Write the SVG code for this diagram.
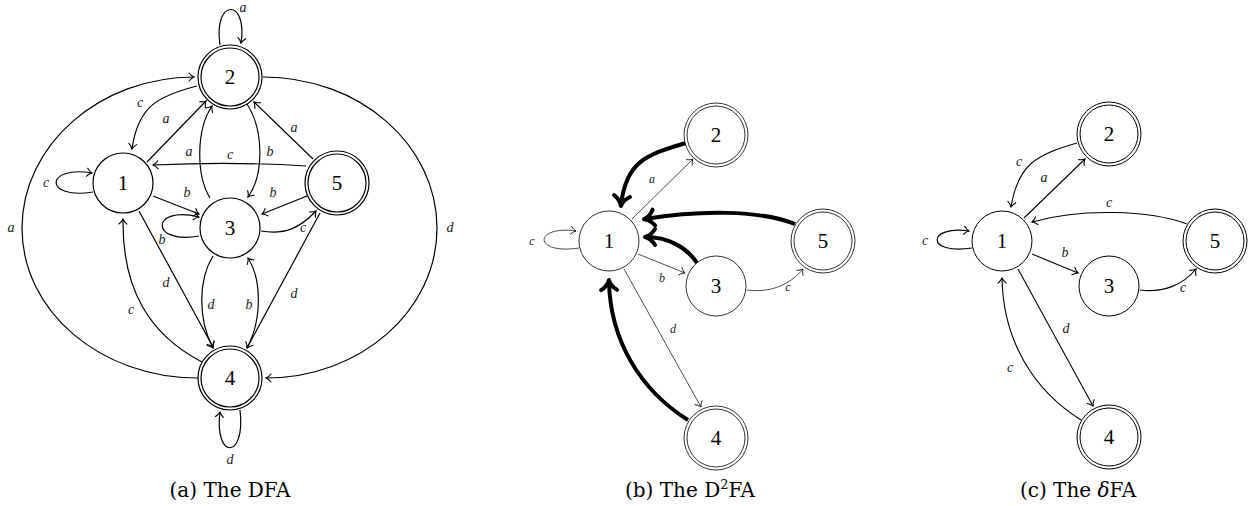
<svg xmlns="http://www.w3.org/2000/svg" width="1252" height="506" viewBox="0 0 1252 506">
<style>
.n{fill:#fff;stroke:#000;}
.na{stroke-width:1.2}
.nb{stroke-width:0.8}
.nc{stroke-width:1}
.num{font-family:"Liberation Serif",serif;font-size:21px;text-anchor:middle;fill:#000}
.lbl{font-family:"Liberation Serif",serif;font-style:italic;font-size:14px;text-anchor:middle;fill:#222}
.lblb{font-family:"Liberation Serif",serif;font-style:italic;font-size:12px;text-anchor:middle;fill:#222}
.cap{font-family:"DejaVu Serif","Liberation Serif",serif;font-size:20px;text-anchor:middle;fill:#000}
.ea{fill:none;stroke:#000;stroke-width:1.2;marker-end:url(#arA)}
.eb{fill:none;stroke:#000;stroke-width:0.7;marker-end:url(#arB)}
.ek{fill:none;stroke:#000;stroke-width:4;marker-end:url(#arK)}
.ec{fill:none;stroke:#000;stroke-width:1.1;marker-end:url(#arA)}
</style>
<defs>
<marker id="arA" markerUnits="userSpaceOnUse" viewBox="-8 -6 10 12" refX="0" refY="0" markerWidth="10" markerHeight="12" orient="auto" overflow="visible">
<path d="M-5,-4 C-3,-1.5 -1,-0.4 0,0 C-1,0.4 -3,1.5 -5,4" fill="none" stroke="#000" stroke-width="1.1" stroke-linecap="round"/>
</marker>
<marker id="arB" markerUnits="userSpaceOnUse" viewBox="-8 -6 10 12" refX="0" refY="0" markerWidth="10" markerHeight="12" orient="auto" overflow="visible">
<path d="M-5,-4 C-3,-1.5 -1,-0.4 0,0 C-1,0.4 -3,1.5 -5,4" fill="none" stroke="#000" stroke-width="0.8" stroke-linecap="round"/>
</marker>
<marker id="arK" markerUnits="userSpaceOnUse" viewBox="-14 -10 16 20" refX="0" refY="0" markerWidth="16" markerHeight="20" orient="auto" overflow="visible">
<path d="M-9,-8 C-6,-3 -2,-0.8 1,0 C-2,0.8 -6,3 -9,8" fill="none" stroke="#000" stroke-width="4" stroke-linecap="round" stroke-linejoin="round"/>
</marker>
</defs>

<!-- Panel (a) connectors -->
<g id="connectors-a">
<path class="ea" d="M220,45 C213,-2 248,-2 241,43"/>
<path class="ea" d="M198,378 C100,378 22,311 22,228 C22,145 100,77 194,77"/>
<path class="ea" d="M263,77 C360,77 437,145 437,228 C437,311 360,378 266,378"/>
<path class="ea" d="M197,86 C158,96 138,106 132,149"/>
<path class="ea" d="M147,162 L206,101"/>
<path class="ea" d="M210,198 C196,175 196,130 212,106"/>
<path class="ea" d="M247,104 C264,130 264,175 248,197"/>
<path class="ea" d="M306,166 C260,163 200,163 153,165"/>
<path class="ea" d="M313,159 L254,102"/>
<path class="ea" d="M153,196 L199,214"/>
<path class="ea" d="M307,196 L262,214"/>
<path class="ea" d="M261,231 C285,235 300,228 316,211"/>
<path class="ea" d="M199,236 C150,245 150,205 199,217"/>
<path class="ea" d="M93,192 C43,200 45,165 92,173"/>
<path class="ea" d="M139,211 L213,347"/>
<path class="ea" d="M202,362 C150,335 122,290 123,219"/>
<path class="ea" d="M213,256 C198,280 198,320 213,348"/>
<path class="ea" d="M247,348 C262,320 262,280 248,258"/>
<path class="ea" d="M320,213 L247,348"/>
<path class="ea" d="M240,410 C246,460 214,460 220,412"/>
</g>
<g id="labels-a">
<text class="lbl" x="243" y="12">a</text>
<text class="lbl" x="11" y="232">a</text>
<text class="lbl" x="450" y="232">d</text>
<text class="lbl" x="140" y="107">c</text>
<text class="lbl" x="166" y="123">a</text>
<text class="lbl" x="189" y="156">a</text>
<text class="lbl" x="270" y="156">b</text>
<text class="lbl" x="230" y="159">c</text>
<text class="lbl" x="294" y="132">a</text>
<text class="lbl" x="187" y="197">b</text>
<text class="lbl" x="273" y="197">b</text>
<text class="lbl" x="303" y="232">c</text>
<text class="lbl" x="162" y="244">b</text>
<text class="lbl" x="46" y="187">c</text>
<text class="lbl" x="166" y="287">d</text>
<text class="lbl" x="131" y="314">c</text>
<text class="lbl" x="211" y="309">d</text>
<text class="lbl" x="249" y="309">b</text>
<text class="lbl" x="294" y="298">d</text>
<text class="lbl" x="230" y="464">d</text>
</g>
<g id="a-node1"><circle class="n na" cx="123" cy="183" r="30"/><text class="num" x="123" y="190">1</text></g>
<g id="a-node2"><circle class="n na" cx="230" cy="77" r="32"/><circle class="n na" cx="230" cy="77" r="29"/><text class="num" x="230" y="84">2</text></g>
<g id="a-node3"><circle class="n na" cx="230" cy="228" r="30"/><text class="num" x="230" y="235">3</text></g>
<g id="a-node4"><circle class="n na" cx="230" cy="378" r="32"/><circle class="n na" cx="230" cy="378" r="29"/><text class="num" x="230" y="385">4</text></g>
<g id="a-node5"><circle class="n na" cx="337" cy="183" r="32"/><circle class="n na" cx="337" cy="183" r="29"/><text class="num" x="337" y="190">5</text></g>
<text class="cap" x="230" y="497">(a) The DFA</text>

<!-- Panel (b) -->
<g id="connectors-b">
<path class="eb" d="M632,219 L693,159"/>
<path class="eb" d="M579,248 C532,255 534,225 576,231"/>
<path class="eb" d="M638,254 L685,273"/>
<path class="eb" d="M747,290 C770,293 790,285 803,269"/>
<path class="eb" d="M624,269 L701,407"/>
<path class="ek" d="M686,143 C645,155 626,162 621,205"/>
<path class="ek" d="M795,224 C760,210 700,210 645,219"/>
<path class="ek" d="M697,263 C686,246 666,237 646,237"/>
<path class="ek" d="M688,420 C640,390 610,340 609,281"/>
</g>
<g id="labels-b">
<text class="lblb" x="652" y="183">a</text>
<text class="lblb" x="532" y="245">c</text>
<text class="lblb" x="662" y="282">b</text>
<text class="lblb" x="788" y="291">c</text>
<text class="lblb" x="673" y="333">d</text>
</g>
<g id="b-node1"><circle class="n nb" cx="609" cy="241" r="30"/><text class="num" x="609" y="248">1</text></g>
<g id="b-node2"><circle class="n nb" cx="716" cy="135" r="32"/><circle class="n nb" cx="716" cy="135" r="29"/><text class="num" x="716" y="142">2</text></g>
<g id="b-node3"><circle class="n nb" cx="716" cy="286" r="30"/><text class="num" x="716" y="293">3</text></g>
<g id="b-node4"><circle class="n nb" cx="716" cy="438" r="32"/><circle class="n nb" cx="716" cy="438" r="29"/><text class="num" x="716" y="445">4</text></g>
<g id="b-node5"><circle class="n nb" cx="823" cy="241" r="32"/><circle class="n nb" cx="823" cy="241" r="29"/><text class="num" x="823" y="248">5</text></g>
<text class="cap" x="690" y="497">(b) The D<tspan dy="-8" font-size="13">2</tspan><tspan dy="8">FA</tspan></text>

<!-- Panel (c) -->
<g id="connectors-c">
<path class="ec" d="M1077,143 C1035,155 1018,165 1011,207"/>
<path class="ec" d="M1024,218 L1085,159"/>
<path class="ec" d="M1187,224 C1150,210 1080,208 1032,222"/>
<path class="ec" d="M972,248 C925,255 927,225 969,231"/>
<path class="ec" d="M1032,254 L1078,273"/>
<path class="ec" d="M1140,290 C1163,293 1183,285 1196,269"/>
<path class="ec" d="M1018,269 L1093,406"/>
<path class="ec" d="M1081,420 C1033,390 1003,340 1002,278"/>
</g>
<g id="labels-c">
<text class="lbl" x="1019" y="166">c</text>
<text class="lbl" x="1044" y="182">a</text>
<text class="lbl" x="1109" y="207">c</text>
<text class="lbl" x="925" y="245">c</text>
<text class="lbl" x="1065" y="257">b</text>
<text class="lbl" x="1183" y="292">c</text>
<text class="lbl" x="1066" y="333">d</text>
<text class="lbl" x="1010" y="372">c</text>
</g>
<g id="c-node1"><circle class="n nc" cx="1002" cy="241" r="30"/><text class="num" x="1002" y="248">1</text></g>
<g id="c-node2"><circle class="n nc" cx="1109" cy="134" r="32"/><circle class="n nc" cx="1109" cy="134" r="29"/><text class="num" x="1109" y="141">2</text></g>
<g id="c-node3"><circle class="n nc" cx="1109" cy="286" r="30"/><text class="num" x="1109" y="293">3</text></g>
<g id="c-node4"><circle class="n nc" cx="1109" cy="437" r="32"/><circle class="n nc" cx="1109" cy="437" r="29"/><text class="num" x="1109" y="444">4</text></g>
<g id="c-node5"><circle class="n nc" cx="1215" cy="241" r="32"/><circle class="n nc" cx="1215" cy="241" r="29"/><text class="num" x="1215" y="248">5</text></g>
<text class="cap" x="1078" y="497">(c) The <tspan font-style="italic">δ</tspan>FA</text>
</svg>
